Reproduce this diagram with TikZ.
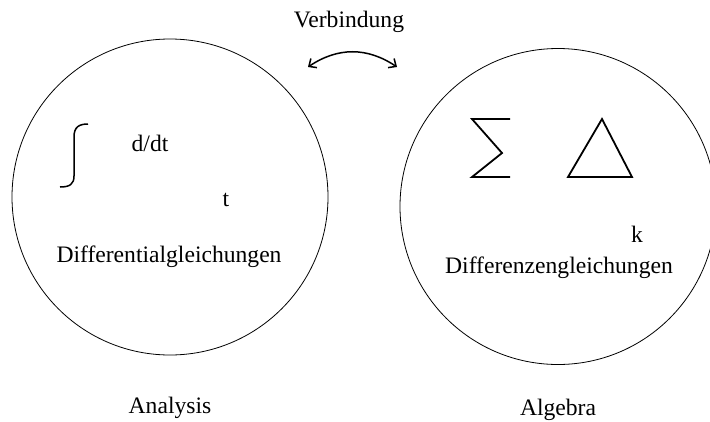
\documentclass[tikz,border=0pt]{standalone}
\usepackage{fontspec}
\setmainfont{Liberation Serif}
\usetikzlibrary{arrows.meta}
\begin{document}
\begin{tikzpicture}[x=1pt,y=-1pt,
  lbl/.style={inner sep=0pt,font=\fontsize{23.6}{28}\selectfont},
  bigcircle/.style={draw,circle,line width=0.8pt,minimum size=316pt,inner sep=0pt},
  sym/.style={line width=1.8pt,line join=miter}]
\useasboundingbox (0,0) rectangle (710,421);
\begin{scope}
\clip (0,0) rectangle (710,421);
\node[bigcircle] (analysis) at (170,197) {};
\node[bigcircle] (algebra) at (558,206.5) {};
\end{scope}
% labels
\node[lbl] (verb) at (349,22) {Verbindung};
\node[lbl] (ddt) at (150,143) {d/dt};
\node[lbl] (t) at (226,200) {t};
\node[lbl] (dgl) at (169,257) {Differentialgleichungen};
\node[lbl] (ana) at (170,408) {Analysis};
\node[lbl] (k) at (637,234) {k};
\node[lbl] (dzg) at (559,268) {Differenzengleichungen};
\node[lbl] (alg) at (558,410) {Algebra};
% connection arrow
\coordinate (vl) at (308,67);
\coordinate (vr) at (397,67);
\draw[line width=1.5pt,{Straight Barb[length=6pt,width=11pt]}-{Straight Barb[length=6pt,width=11pt]}]
  (vl) .. controls (338,47) and (367,47) .. (vr);
% integral sign
\draw[line width=1.5pt] (88,124) .. controls (79,124) and (74,127) .. (74,137)
  -- (74,176) .. controls (74,184) and (70,187) .. (60,187);
% sigma
\draw[sym] (510,119) -- (472,119) -- (502,153) -- (472,177) -- (510,177);
% triangle
\draw[sym] (602,119) -- (632,177) -- (568,177) -- cycle;
\end{tikzpicture}
\end{document}
